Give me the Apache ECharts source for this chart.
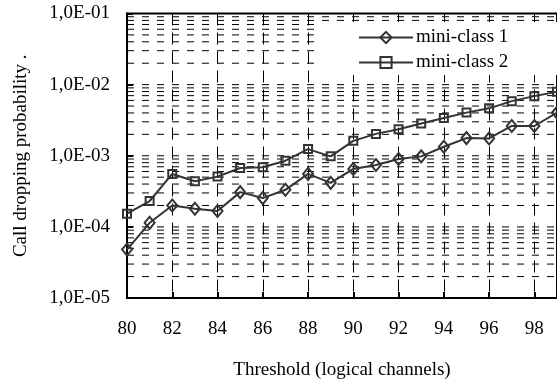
<!DOCTYPE html>
<html>
<head>
<meta charset="utf-8">
<script src="https://cdn.jsdelivr.net/npm/echarts@6/dist/echarts.min.js"></script>
<style>html,body{margin:0;padding:0;background:#fff;}#c{width:557px;height:385px;}</style>
</head>
<body>
<div id="c"></div>
<script>
var thresholds = [80,81,82,83,84,85,86,87,88,89,90,91,92,93,94,95,96,97,98,99];
var miniClass1 = [4.8e-5,1.14e-4,2.0e-4,1.8e-4,1.67e-4,3.08e-4,2.54e-4,3.32e-4,5.55e-4,4.16e-4,6.52e-4,7.41e-4,9.0e-4,9.8e-4,1.34e-3,1.77e-3,1.75e-3,2.62e-3,2.62e-3,4.04e-3];
var miniClass2 = [1.53e-4,2.31e-4,5.55e-4,4.39e-4,5.09e-4,6.73e-4,6.89e-4,8.51e-4,1.24e-3,9.8e-4,1.62e-3,2.03e-3,2.36e-3,2.84e-3,3.4e-3,4.04e-3,4.64e-3,5.86e-3,6.89e-3,7.93e-3];
var seriesNames = ['mini-class 1','mini-class 2'];
var yTickLabels = ['1,0E-05','1,0E-04','1,0E-03','1,0E-02','1,0E-01'];
var decades = [-5,-4,-3,-2];
var mantissas = [1,2,3,4,5,6,7,8,9];

var FONT = 'Liberation Serif';
var xMin = thresholds[0], xMax = thresholds[thresholds.length - 1];

function pairs(arr){ return thresholds.map(function(x,i){ return [x, arr[i]]; }); }

var gridSeries = [];
decades.forEach(function(e){
  mantissas.forEach(function(k){
    if (e === -5 && k === 1) return;
    var v = k * Math.pow(10, e);
    gridSeries.push({
      type: 'line', data: [[xMin, v], [xMax, v]], symbol: 'none', silent: true, z: 1,
      lineStyle: {color: '#000', width: 1, type: [7, 8]}, tooltip: {show: false}
    });
  });
});

var chart = echarts.init(document.getElementById('c'));
chart.setOption({
  animation: false,
  backgroundColor: '#fff',
  grid: {left: 127, top: 13.5, right: -2, bottom: 85, show: true, borderColor: '#000', borderWidth: 2, backgroundColor: 'transparent'},
  legend: {
    data: seriesNames,
    orient: 'vertical',
    left: 322, top: 22, z: 10,
    backgroundColor: '#fff',
    padding: [6, 52, 3, 36],
    itemWidth: 54, itemHeight: 14, itemGap: 6,
    textStyle: {fontFamily: FONT, fontSize: 19, color: '#000', padding: [0,0,0,-2]}
  },
  xAxis: {
    type: 'value', min: xMin, max: xMax, interval: 2,
    name: 'Threshold (logical channels)', nameLocation: 'middle', nameGap: 63,
    nameTextStyle: {fontFamily: FONT, fontSize: 19, color: '#000'},
    axisLine: {lineStyle: {color: '#000', width: 2}},
    axisTick: {inside: true, length: 6, lineStyle: {color: '#000', width: 2}},
    axisLabel: {fontFamily: FONT, fontSize: 19, color: '#000', margin: 22, showMaxLabel: false,
      formatter: function(v){ return v === xMax ? '' : String(v); }},
    splitLine: {show: true, lineStyle: {color: '#000', width: 1, type: [12, 7]}}
  },
  yAxis: {
    type: 'log', logBase: 10, min: 1e-5, max: 1e-1,
    name: 'Call dropping probability .', nameLocation: 'middle', nameGap: 96,
    nameTextStyle: {fontFamily: FONT, fontSize: 19, color: '#000'},
    axisLine: {lineStyle: {color: '#000', width: 2}},
    axisTick: {inside: true, length: 6, lineStyle: {color: '#000', width: 2}},
    axisLabel: {fontFamily: FONT, fontSize: 19, color: '#000', margin: 17,
      formatter: function(v){ var e = Math.round(Math.log10(v)); return yTickLabels[e + 5] || ''; }},
    splitLine: {show: false}
  },
  series: gridSeries.concat([
    {
      name: seriesNames[0], type: 'line', data: pairs(miniClass1), z: 3,
      symbol: 'diamond', symbolSize: [10, 12], showAllSymbol: true,
      lineStyle: {color: '#333', width: 2},
      itemStyle: {color: 'rgba(255,255,255,0)', borderColor: '#333', borderWidth: 2}
    },
    {
      name: seriesNames[1], type: 'line', data: pairs(miniClass2), z: 3,
      symbol: 'rect', symbolSize: 8, showAllSymbol: true,
      lineStyle: {color: '#333', width: 2},
      itemStyle: {color: 'rgba(255,255,255,0)', borderColor: '#333', borderWidth: 2}
    }
  ])
});
</script>
</body>
</html>
